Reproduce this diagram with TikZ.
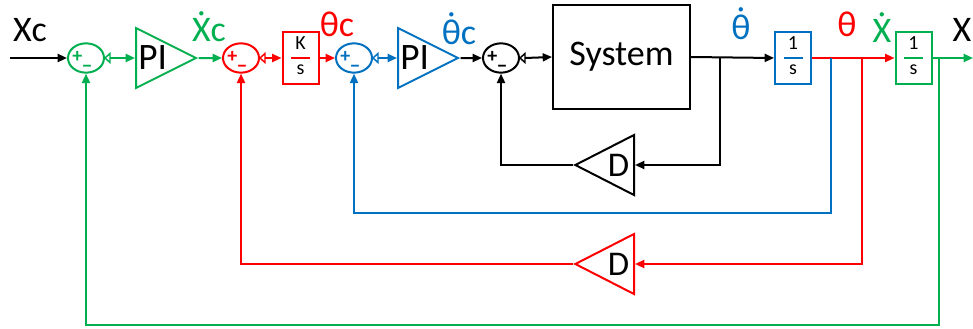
\documentclass[tikz,border=0pt]{standalone}
\usepackage{fontspec}
\setmainfont{Carlito}
\usepackage{tikz}
\usetikzlibrary{positioning, arrows.meta, shapes.geometric}
\definecolor{ctrlGreen}{HTML}{00B050}
\definecolor{ctrlRed}{HTML}{FF0000}
\definecolor{ctrlBlue}{HTML}{0070C0}
\newcommand{\dotacc}[1]{{\accent"02D9 #1}}

\begin{document}
\begin{tikzpicture}[x=0.75pt, y=-0.75pt, line width=1.5pt, >={Triangle[length=7pt,width=6pt]},
    sumnode/.style={ellipse, draw, minimum width=27pt, minimum height=22pt, inner sep=0pt},
    gain/.style={isosceles triangle, isosceles triangle stretches=true, draw, inner sep=0pt, minimum width=45pt, minimum height=45pt, text=black, font=\fontsize{28}{28}\selectfont},
    fbgain/.style={gain, shape border rotate=180, minimum height=44pt, font=\fontsize{26}{26}\selectfont},
    intbox/.style={draw, minimum width=27pt, minimum height=38.25pt, inner sep=0pt},
    sig/.style={anchor=base, inner sep=0pt, font=\fontsize{27}{27}\selectfont},
    frac/.style={font=\fontsize{15}{15}\selectfont, text=black, inner sep=0pt},
    sign/.style={font=\bfseries\fontsize{15}{15}\selectfont, inner sep=0pt}]
    \useasboundingbox (0,0) rectangle (973,328);

    % summing junctions
    \node[sumnode, draw=ctrlGreen] (sumX) at (86,58) {};
    \node[sumnode, draw=ctrlRed] (sumV) at (241,58) {};
    \node[sumnode, draw=ctrlBlue] (sumT) at (354,58) {};
    \node[sumnode, draw=black] (sumW) at (501,58) {};
    \foreach \s/\c in {sumX/ctrlGreen, sumV/ctrlRed, sumT/ctrlBlue, sumW/black} {
        \draw[\c, line width=1.1pt] (\s.east) -- ++(5,-4.5) -- ++(0,9) -- cycle;
        \node[sign, text=\c] at ([xshift=-6.5pt, yshift=0.5pt]\s.center) {+};
        \node[sign, text=\c] at ([xshift=0.75pt, yshift=-8pt]\s.center) {−};
    }

    % forward path
    \node[gain, draw=ctrlGreen, anchor=west] (piX) at (135,58) {PI};
    \node[intbox, draw=ctrlRed] (intK) at (300.5,58) {};
    \node[gain, draw=ctrlBlue, anchor=west] (piT) at (397,58) {PI};
    \node[draw, minimum width=102.75pt, minimum height=78pt, font=\fontsize{27}{27}\selectfont] (sys) at (621.5,57) {System};
    \node[intbox, draw=ctrlBlue] (intT) at (793,58) {};
    \node[intbox, draw=ctrlGreen] (intX) at (913.5,58) {};

    % fractions
    \node[frac] (kNum) at (300.5,43) {K};
    \node[frac] (kDen) at (300.5,70) {s};
    \draw[ctrlRed] (291,58) -- (310,58);
    \node[frac] (tNum) at (793,43) {1};
    \node[frac] (tDen) at (793,70) {s};
    \draw[ctrlBlue] (783.5,58) -- (802.5,58);
    \node[frac] (xNum) at (913.5,43) {1};
    \node[frac] (xDen) at (913.5,70) {s};
    \draw[ctrlGreen] (904,58) -- (923,58);

    % feedback gains
    \node[fbgain, draw=black, anchor=east] (dT) at (635,165) {D};
    \node[fbgain, draw=ctrlRed, anchor=east] (dV) at (635,264) {D};

    % signal labels
    \node[sig] (lblXc) at (30,42) {Xc};
    \node[sig, text=ctrlGreen] (lblXcd) at (209,42) {\dotacc{X}c};
    \node[sig, text=ctrlRed] (lblTc) at (337,37) {θc};
    \node[sig, text=ctrlBlue] (lblTcd) at (459,45) {\dotacc{θ}c};
    \node[sig, text=ctrlBlue] (lblTd) at (741,40) {\dotacc{θ}};
    \node[sig, text=ctrlRed] (lblT) at (847,37) {θ};
    \node[sig, text=ctrlGreen] (lblXd) at (882,43) {\dotacc{X}};
    \node[sig] (lblX) at (962,42) {X};

    \coordinate (inXc) at (10,58);
    \coordinate (outX) at (973,58);
    \coordinate (brW) at (720,58);
    \coordinate (brT) at (831,58);
    \coordinate (brV) at (862,58);
    \coordinate (brX) at (939,58);

    \draw[->] (inXc) -- (sumX.west);
    \draw[->, ctrlGreen] ([xshift=3.75pt]sumX.east) -- (piX.west);
    \draw[->, ctrlGreen] (piX.east) -- (sumV.west);
    \draw[->, ctrlRed] ([xshift=3.75pt]sumV.east) -- (intK.west);
    \draw[->, ctrlRed] (intK.east) -- (sumT.west);
    \draw[->, ctrlBlue] ([xshift=3.75pt]sumT.east) -- (piT.west);
    \draw[->] (piT.east) -- (sumW.west);
    \draw[->] ([xshift=3.75pt]sumW.east) -- (sys.west);
    \draw[->] (sys.east) -- (intT.west);
    \draw[->, ctrlRed] (intT.east) -- (intX.west);
    \draw[->, ctrlGreen] (intX.east) -- (outX);

    % feedback loops
    \draw[->] (brW) |- (dT.east);
    \draw[->] (dT.west) -| (sumW.south);
    \draw[->, ctrlBlue] (brT) -- (831,213) -| (sumT.south);
    \draw[->, ctrlRed] (brV) |- (dV.east);
    \draw[->, ctrlRed] (dV.west) -| (sumV.south);
    \draw[->, ctrlGreen] (brX) -- (939,325) -| (sumX.south);
\end{tikzpicture}
\end{document}
